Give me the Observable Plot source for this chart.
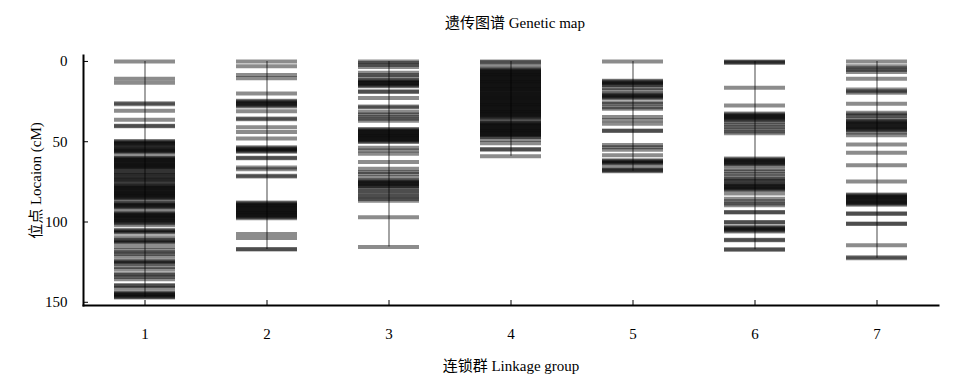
<!DOCTYPE html>
<html><head><meta charset="utf-8">
<script src="https://cdn.jsdelivr.net/npm/d3@7"></script>
<script src="https://cdn.jsdelivr.net/npm/@observablehq/plot@0.6"></script>
<style>
body{margin:0;background:#fff;font-family:"Liberation Serif","Noto Sans CJK SC",serif;}
#wrap{position:relative;width:954px;height:382px;}
#title{position:absolute;left:515px;top:11px;transform:translateX(-50%);font-size:15px;white-space:nowrap;color:#000;}
#chart{position:absolute;left:0;top:40px;}
</style></head>
<body><div id="wrap"><div id="title">遗传图谱 Genetic map</div><div id="chart"></div></div>
<script>
const groups = ["1","2","3","4","5","6","7"];
const yTicks = [0, 50, 100, 150];
const g1 = [0, 10.8, 13.3, 26, 26.6, 30.7, 36.3, 40, 40.4,
  49.5, 50, 50.6, 51.1, 51.7, 52.3, 53.2, 54, 54.6, 55.1, 55.7, 56.3, 57,
  59.5, 60.1, 60.6, 61.2, 61.7, 62.3, 62.8, 63.4, 64, 64.5, 65.1, 65.6, 66.2, 66.8, 67.4, 68.8, 69.5, 70.3, 71,
  72, 72.7, 73.4, 74.2, 75, 75.8, 77, 77.5, 78.1, 78.6, 79.2, 79.7, 80.3, 80.8, 81.4, 81.9, 82.5, 83, 83.6, 84.1, 84.7, 85.2, 86.2,
  88, 88.5, 89.1, 89.6, 90.2, 90.8, 91.6,
  94, 94.5, 95.1, 95.6, 96.2, 96.7, 97.3, 97.8, 98.4, 99, 99.5, 100.1, 100.7, 102,
  105, 105.5, 106.1, 106.7, 109.5, 111, 111.6, 112.3, 113, 115.6, 117.6, 118.8, 120, 121.5,
  124, 124.6, 125.3, 126, 128, 129.5, 132, 133, 134.3, 135.6, 139.3, 139.8, 141.2,
  143.7, 144.3, 144.9, 145.5, 146.1, 146.7, 147];
const g2 = [0, 3, 8.5, 10.5, 20, 24.5, 25, 25.6, 26.2, 26.8, 27.4, 28, 31, 35.5, 36, 41, 44, 48,
  53.5, 54, 54.6, 55.2, 55.8, 56.3, 60, 60.3, 66, 67.2, 71.2, 71.7,
  87.8, 88.3, 88.9, 89.4, 90, 90.5, 91.1, 91.6, 92.2, 92.7, 93.3, 93.8, 94.4, 94.9, 95.5, 96, 96.6, 97.1, 97.6,
  107.5, 110, 116.8, 117.2];
const g3 = [0, 1, 2.2, 3.5, 7, 8.5, 9.6, 11.5, 12, 12.6, 13.2, 13.8, 14.4, 15, 15.5, 18.5, 19, 22.8, 28, 28.7,
  31.5, 33, 34.5, 35.7, 37, 42, 42.5, 43.1, 43.6, 44.2, 44.7, 45.3, 45.8, 46.4, 46.9, 47.5, 48, 48.6, 49.1, 49.7, 50.1,
  53.7, 55.4, 57.5, 62.6, 66.8, 68.9, 70, 72, 74, 74.5, 75.1, 75.7, 76.3, 76.9, 77.5, 78,
  79.5, 80.7, 82, 83.3, 84.5, 85.7, 86.7, 97, 115.5];
const g4 = [0, 0.5, 2.5, 4.5, 5.1, 5.6, 6.2, 6.7, 7.3, 7.8, 8.4, 8.9, 9.5, 10, 10.6, 11.1, 11.7, 12.2, 12.8, 13.3, 13.9, 14.4, 15, 15.5,
  16.1, 16.6, 17.2, 17.7, 18.3, 18.8, 19.4, 19.9, 20.5, 21, 21.6, 22.1, 22.7, 23.2, 23.8, 24.3, 24.9, 25.4, 26, 26.5,
  27.1, 27.6, 28.2, 28.7, 29.3, 29.8, 30.4, 30.9, 31.5, 32, 32.6, 33.1, 33.7, 34.2, 34.8, 35.4, 36.7,
  37.8, 38.3, 38.9, 39.4, 40, 40.5, 41.1, 41.6, 42.2, 42.7, 43.3, 43.8, 44.4, 44.9, 45.5, 46, 46.6, 47,
  49, 51, 54.6, 55, 59];
const g5 = [0, 12, 12.5, 13.1, 13.7, 14.3, 14.9, 16.5, 18, 20, 20.6, 21.2, 21.8, 22.4, 23, 25.5, 26.5, 28.5, 29.5,
  34.6, 36.7, 38.8, 43, 43.3, 52, 53.5, 55, 58.5, 61.5, 62, 62.6, 63.2, 63.7, 66, 67.4, 67.9, 68.4];
const g6 = [0, 0.4, 0.9, 16.4, 27.4, 32.5, 33, 33.6, 34.2, 34.8, 35.4, 36, 36.6, 38, 39.4, 40.8, 42.2, 43.6, 44.8,
  60.5, 61, 61.6, 62.2, 62.8, 63.4, 64, 64.6, 67, 68.5, 70, 71.5, 73, 74, 74.3,
  76, 76.5, 77.1, 77.7, 78.3, 78.9, 79.5, 80, 82.3, 85.5, 87, 88.5, 89.5, 93.8, 94.1, 100, 100.3,
  103, 103.5, 104.1, 104.7, 105.3, 105.9, 111, 111.3, 117, 117.3];
const g7 = [0, 3, 4.2, 5.3, 6.5, 10.8, 17.5, 18.5, 19.5, 26.3, 32, 33, 34, 35.5,
  37, 37.5, 38.1, 38.7, 39.3, 39.9, 40.5, 41.1, 41.7, 42.3, 42.9, 44.2, 46, 51.8, 56.8, 64.7, 74.7,
  82.8, 83.3, 83.9, 84.5, 85.1, 85.7, 86.3, 86.9, 87.5, 88.1, 88.7, 89.3, 94.6, 95, 101, 101.3, 114.5, 122, 122.5];

const series = [g1, g2, g3, g4, g5, g6, g7];
const markers = series.flatMap((arr, i) => arr.map(pos => ({group: groups[i], pos})));
const spans = series.map((arr, i) => ({group: groups[i], start: d3.min(arr), end: d3.max(arr)}));

const chart = Plot.plot({
  width: 954,
  height: 342,
  marginTop: 15,
  marginBottom: 77,
  marginLeft: 83,
  marginRight: 16,
  style: {fontFamily: "'Liberation Serif','Noto Sans CJK SC',serif", fontSize: "14px", color: "#000", background: "#fff"},
  x: {type: "band", domain: groups, paddingInner: 0.5, paddingOuter: 0.25},
  y: {domain: [-3.7, 152], reverse: true},
  marks: [
    Plot.ruleX(spans, {x: "group", y1: "start", y2: "end", stroke: "#000", strokeOpacity: 0.6, strokeWidth: 1.2}),
    Plot.tickY(markers, {x: "group", y: "pos", stroke: "#000", strokeOpacity: 0.45, strokeWidth: 4}),
    Plot.frame({anchor: "left", strokeWidth: 2}),
    Plot.frame({anchor: "bottom", strokeWidth: 2}),
    Plot.axisY({ticks: yTicks, tickSize: -5, tickPadding: 21, fontSize: 15, label: "位点 Locaion (cM)", labelAnchor: "center", labelArrow: false, labelOffset: 53}),
    Plot.axisX({tickSize: -5, tickPadding: 28, fontSize: 15, label: "连锁群 Linkage group", labelAnchor: "center", labelArrow: false, labelOffset: 65})
  ]
});
document.getElementById("chart").appendChild(chart);
</script>
</body></html>
